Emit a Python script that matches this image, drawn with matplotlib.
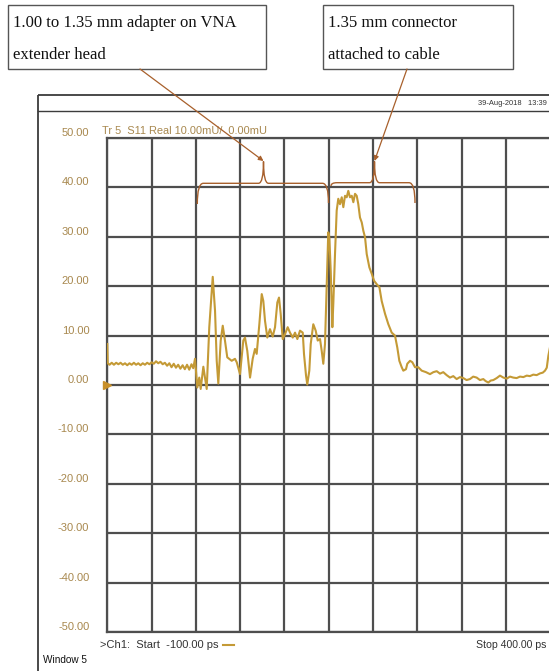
import matplotlib
matplotlib.use('Agg')
import matplotlib.pyplot as plt
from matplotlib.path import Path
from matplotlib.patches import PathPatch, Rectangle

W, H, DPI = 549, 671, 100

# ---------------- data ----------------
time_ps = [-100, -99.5, -97.5, -95, -92.5, -90, -87.5, -85, -82.5, -80, -77.5, -75, -72.5, -70,
           -67.5, -65, -62.5, -60, -57.5, -55, -52.5, -50, -47.5, -45, -42.5, -40, -37.5, -35,
           -32.5, -30, -27.5, -25, -22.5, -20, -17.5, -15, -12.5, -10, -7.5, -5, -3, -1,
           1.6, 3.8, 5.4, 8.4, 10.3, 12.2, 15.1, 19.0, 21.6, 23.5, 25.3, 28.0, 30.3, 32.8, 35.4,
           40.4, 44.1, 46.1, 49.8, 53.5, 55.4, 58.0, 61.1, 64.1, 66.7, 68.6, 71.6, 74.3, 76.1,
           78.0, 80.6, 83.6, 86.7, 89.3, 91.9, 93.8, 95.7, 98.0, 100.6, 103.6, 106.2, 109.3,
           111.9, 114.5, 117.5, 120.6, 122.0, 124.3, 125.7, 128.0, 129.6, 132.5, 135.2, 137.5,
           140.1, 142.0, 143.8, 145.7, 147.6, 149.4, 150.6, 152.2, 154.0, 155.1, 157.0, 158.9,
           160.7, 162.6, 164.6, 166.4, 168.3, 170.2, 172.0, 173.9, 175.9, 177.7, 179.6, 181.5,
           183.3, 185.2, 187.2, 189.0, 190.9, 192.8, 195.8, 198.5, 201.1, 204.1, 207.1, 209.7,
           213.5, 217.2, 221.0, 224.7, 227.3, 229.6, 232.3, 234.1, 237.1, 238.6, 241.7, 244.3,
           247.3, 251.0, 254.9, 259.7, 264.2, 268, 271.8, 275.5, 279.2, 283, 286.8, 290.5, 294.3,
           298, 301.8, 305.5, 309.3, 313, 316.9, 320.6, 324.4, 327, 330.0, 332.8, 335.7, 339.5,
           343.2, 347, 350.8, 354.5, 358.2, 362, 365.8, 369.6, 373.4, 377, 380.8, 384.6, 388.4,
           391.5, 394.0, 396, 397.8, 399.5]
s11_real_mU = [8.3, 4.4, 4.1, 4.5, 4.1, 4.5, 4.2, 4.5, 4.1, 4.4, 4.0, 4.4, 4.1, 4.5,
               4.1, 4.4, 4.0, 4.4, 4.1, 4.5, 4.2, 4.6, 4.3, 4.8, 4.4, 4.7, 4.2, 4.5,
               3.9, 4.4, 3.6, 4.3, 3.5, 4.1, 3.3, 4.0, 3.2, 4.1, 3.1, 4.2, 3.4, 5.3,
               -0.5, 1.5, -0.8, 3.7, 1.5, -0.8, 11.7, 21.9, 15.0, 4.9, 0.3, 9.0, 12.0, 9.0, 5.6,
               4.9, 5.3, 4.6, 2.2, 9.0, 9.6, 6.9, 1.5, 5.3, 7.3, 6.3, 12.3, 18.4, 17.0,
               13.0, 9.6, 11.3, 9.8, 11.7, 16.7, 17.7, 14.4, 9.3, 10.3, 11.7, 10.6, 9.6,
               10.6, 9.3, 11.0, 10.6, 6.3, 1.9, 0.1, 2.9, 8.3, 12.3, 11.0, 9.0,
               9.3, 6.9, 4.3, 8.3, 20.0, 30.9, 29.9, 23.0, 11.7, 16.5, 26.5, 35.3,
               37.7, 36.6, 38.0, 36.0, 38.3, 38.0, 39.3, 38.0, 38.3, 37.0, 38.7, 38.3,
               36.6, 33.9, 32.9, 31.2, 29.9, 26.5, 23.8, 22.5, 21.1, 20.4, 19.8, 17.0,
               14.4, 12.3, 10.6, 10.0, 7.6, 4.9, 3.6, 2.9, 3.2, 4.3, 4.9, 4.6,
               3.6, 3.6, 2.9, 2.6, 2.2, 2.6, 2.8, 2.3, 2.6, 2.0, 1.5, 1.8, 1.2,
               1.6, 1.4, 1.0, 1.2, 1.7, 1.5, 1.0, 1.2, 0.8, 0.5, 0.9, 1.0, 1.4,
               1.9, 1.5, 1.3, 1.7, 1.5, 1.4, 1.7, 1.6, 1.9, 1.8, 2.1, 2.0, 2.35,
               2.5, 2.9, 3.5, 5.9, 7.5]

y_ticks = [50, 40, 30, 20, 10, 0, -10, -20, -30, -40, -50]
y_tick_labels = ['50.00', '40.00', '30.00', '20.00', '10.00', '0.00',
                 '-10.00', '-20.00', '-30.00', '-40.00', '-50.00']
x_grid = [-100, -50, 0, 50, 100, 150, 200, 250, 300, 350, 400]
x_range = [-100, 400]
y_range = [-50, 50]

title_text = 'Tr 5  S11 Real 10.00mU/  0.00mU'
start_text = '>Ch1:  Start  -100.00 ps'
stop_text = 'Stop 400.00 ps'
window_text = 'Window 5'
date_text = '39-Aug-2018   13:39'
box1_lines = ['1.00 to 1.35 mm adapter on VNA', 'extender head']
box2_lines = ['1.35 mm connector', 'attached to cable']

# ---------------- styling ----------------
TRACE = '#c49a36'
LABEL = '#a8884e'
GRID = '#4e4e4e'
BRACE = '#a8602c'
SANS = ['Liberation Sans', 'DejaVu Sans']
SERIF = ['Liberation Serif', 'DejaVu Serif']

fig = plt.figure(figsize=(W / DPI, H / DPI), dpi=DPI)
fig.patch.set_facecolor('white')

L, R, T, B = 107.3, 550.3, 138.0, 632.0
ax = fig.add_axes([L / W, 1 - B / H, (R - L) / W, (B - T) / H])
ax.set_xlim(*x_range)
ax.set_ylim(*y_range)
ax.set_xticks(x_grid)
ax.set_yticks(y_ticks)
ax.grid(True, color=GRID, lw=1.6)
ax.tick_params(length=0, labelleft=False, labelbottom=False)
for s in ax.spines.values():
    s.set_color(GRID)
    s.set_linewidth(1.6)
ax.set_axisbelow(True)
ax.plot(time_ps, s11_real_mU, color=TRACE, lw=1.5, zorder=3, solid_joinstyle='round')
ax.plot([x_range[0]], [0], marker='>', ms=6, color='#c8902a', clip_on=False, zorder=4)

for v, lab in zip(y_ticks, y_tick_labels):
    ax.annotate(lab, xy=(0, v), xycoords=('axes fraction', 'data'),
                xytext=(-18, 5), textcoords='offset pixels',
                ha='right', va='center', fontsize=8, color=LABEL, family=SANS)

# ---------------- overlay in pixel coordinates ----------------
ov = fig.add_axes([0, 0, 1, 1], zorder=5)
ov.set_xlim(0, W)
ov.set_ylim(H, 0)
ov.axis('off')
ov.patch.set_alpha(0)

# instrument window frame
ov.add_patch(Rectangle((38, 94.5), 540, 600, fill=False, ec='#3c3c3c', lw=1.3))
ov.plot([38, 560], [111, 111], color='#3c3c3c', lw=1.0)
ov.text(478, 103.5, date_text, fontsize=5.4, color='#333333', family=SANS,
        ha='left', va='center')

ov.text(101.5, 131, title_text, fontsize=7.9, color=LABEL, family=SANS,
        ha='left', va='center')
ov.text(100, 645, start_text, fontsize=8.0, color='#333333', family=SANS,
        ha='left', va='center')
ov.plot([223, 234], [645, 645], color=TRACE, lw=1.5)
ov.text(546, 645, stop_text, fontsize=7.6, color='#333333', family=SANS,
        ha='right', va='center')
ov.text(43, 660, window_text, fontsize=7.2, color='#111111', family=SANS,
        ha='left', va='center')

# annotation boxes
ov.add_patch(Rectangle((8.3, 5), 257.4, 64, fill=False, ec='#555555', lw=1.0))
ov.add_patch(Rectangle((322.7, 5), 190, 64, fill=False, ec='#555555', lw=1.0))
for i, line in enumerate(box1_lines):
    ov.text(13.3, 23 + 32 * i, line, fontsize=12, family=SERIF, color='#111111',
            ha='left', va='center')
for i, line in enumerate(box2_lines):
    ov.text(328, 23 + 32 * i, line, fontsize=12, family=SERIF, color='#111111',
            ha='left', va='center')


def brace(x0, x1, xt, yh, ytip, yl, yr):
    verts = [(x0, yl), (x0, yh), (x0 + 6, yh), (xt - 5, yh), (xt, yh), (xt, ytip),
             (xt, yh), (xt + 5, yh), (x1 - 6, yh), (x1, yh), (x1, yr)]
    codes = [Path.MOVETO, Path.CURVE3, Path.CURVE3, Path.LINETO, Path.CURVE3, Path.CURVE3,
             Path.CURVE3, Path.CURVE3, Path.LINETO, Path.CURVE3, Path.CURVE3]
    ov.add_patch(PathPatch(Path(verts, codes), fill=False, ec=BRACE, lw=1.0))


brace(197.3, 328.5, 263.5, 183.3, 161.5, 204, 203)
brace(331.0, 415.0, 374.5, 182.7, 161.5, 186, 203)

for (xs, ys), (xe, ye) in [((140, 69), (263.5, 161)), ((407, 69), (374.5, 161))]:
    ov.annotate('', xy=(xe, ye), xytext=(xs, ys), xycoords='data',
                arrowprops=dict(arrowstyle='-|>', color=BRACE, lw=0.9,
                                mutation_scale=7, shrinkA=0, shrinkB=0))

fig.savefig('out.png', dpi=DPI, facecolor='white')
